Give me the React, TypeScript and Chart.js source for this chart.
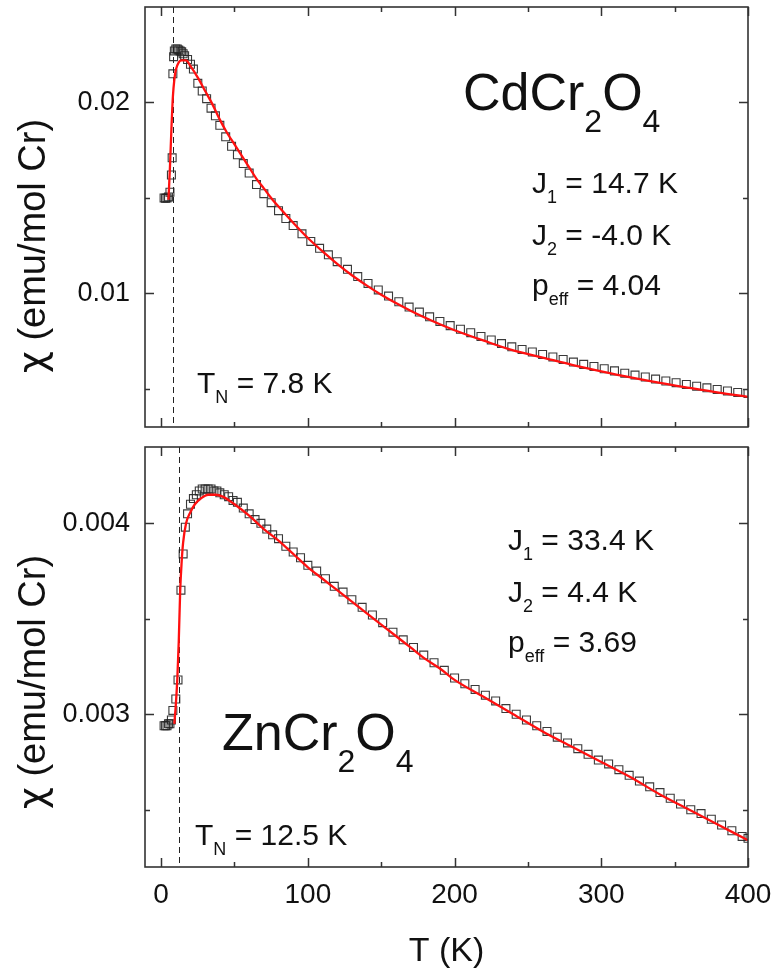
import React, { useEffect, useRef } from "react";
import { Chart, registerables } from "chart.js";

Chart.register(...registerables);

const FONT = "'Liberation Sans', Arial, Helvetica, sans-serif";
const CHI_FONT = "'DejaVu Sans', 'Liberation Sans', sans-serif";

// shared temperature axis
const X_MIN = -11;
const X_MAX = 400;
const xMajorTicks = [0, 100, 200, 300, 400];
const xMinorTicks = [50, 150, 250, 350];

// ---------- CdCr2O4 (top panel) ----------
const cdTemps = [2, 3, 4, 5, 6, 7, 7.5, 8, 8.5, 9, 10, 11, 12, 13, 14, 15, 16, 18, 20, 22, 25, 28, 31, 34, 37, 40, 44, 48, 52, 56, 60, 65, 70, 75, 80, 85, 90, 96, 102, 108, 114, 120, 127, 134, 141, 148, 155, 162, 169, 176, 183, 190, 197, 204, 211, 218, 225, 232, 239, 246, 253, 260, 267, 274, 281, 288, 295, 302, 309, 316, 323, 330, 337, 344, 351, 358, 365, 372, 379, 386, 393, 400];
const cdChi = [0.015, 0.01498, 0.015, 0.01505, 0.0153, 0.0162, 0.0171, 0.0215, 0.0224, 0.0227, 0.0228, 0.0228, 0.02275, 0.0227, 0.02265, 0.02255, 0.02245, 0.02225, 0.022, 0.02175, 0.021, 0.0206, 0.0202, 0.0197, 0.0193, 0.0188, 0.0182, 0.0177, 0.01726, 0.0168, 0.0163, 0.0157, 0.01522, 0.01475, 0.01433, 0.01392, 0.01355, 0.01312, 0.01272, 0.01236, 0.01202, 0.01166, 0.01126, 0.01088, 0.01052, 0.01018, 0.00986, 0.00956, 0.00928, 0.00902, 0.00877, 0.00853, 0.00831, 0.00812, 0.00794, 0.00774, 0.00756, 0.00737, 0.0072, 0.00706, 0.00693, 0.0068, 0.00667, 0.00654, 0.0064, 0.00628, 0.00617, 0.00605, 0.00594, 0.00582, 0.00572, 0.00562, 0.00551, 0.00541, 0.00532, 0.00523, 0.00514, 0.00505, 0.00497, 0.00489, 0.00481, 0.00476];
const cdFitTemps = [5, 6, 7, 8, 9, 10, 12, 14, 17, 20, 25, 30, 35, 40, 45, 50, 55, 60, 65, 70, 75, 80, 90, 100, 110, 120, 130, 140, 150, 160, 170, 180, 190, 200, 220, 240, 260, 280, 300, 320, 340, 360, 380, 400];
const cdFitChi = [0.0149, 0.0166, 0.0186, 0.0203, 0.0212, 0.0217, 0.0221, 0.0222, 0.0222, 0.0219, 0.0213, 0.0206, 0.0199, 0.0191, 0.0184, 0.0178, 0.0172, 0.0166, 0.016, 0.0155, 0.015, 0.01455, 0.0137, 0.0129, 0.0122, 0.01155, 0.01095, 0.01042, 0.00993, 0.00949, 0.00909, 0.00872, 0.00838, 0.00807, 0.00752, 0.00701, 0.00664, 0.00626, 0.00592, 0.0056, 0.00531, 0.00505, 0.0048, 0.00458];
const cdYRange = [0.003, 0.025];
const cdYMajor = [0.01, 0.02];
const cdYMinor = [0.005, 0.015];
const cdTN = 7.8;

// ---------- ZnCr2O4 (bottom panel) ----------
const znTemps = [2, 3, 4, 5, 6, 7, 8, 10, 11.5, 13.5, 15, 16.5, 18, 20, 22, 24, 26, 28, 30, 32, 34, 36, 38, 40, 43, 46, 49, 52, 56, 60, 64, 68, 72, 76, 80, 85, 90, 95, 100, 106, 112, 118, 124, 130, 137, 144, 151, 158, 165, 172, 179, 186, 193, 200, 207, 214, 221, 228, 235, 242, 249, 256, 263, 270, 277, 284, 291, 298, 305, 312, 319, 326, 333, 340, 347, 354, 361, 368, 375, 382, 389, 396, 400];
const znChi = [0.00294, 0.00294, 0.00294, 0.00295, 0.00295, 0.00297, 0.00302, 0.00308, 0.00318, 0.00365, 0.00384, 0.00398, 0.00405, 0.0041, 0.00413, 0.00415, 0.00417, 0.00418, 0.00418, 0.00418, 0.00418, 0.00417, 0.00417, 0.00416, 0.00415, 0.00414, 0.00412, 0.00411, 0.00408, 0.00405, 0.00402, 0.004, 0.00397, 0.00394, 0.00392, 0.00388, 0.00385, 0.00382, 0.00378, 0.00375, 0.00371, 0.00367, 0.00364, 0.0036, 0.00356, 0.00352, 0.00348, 0.00343, 0.00339, 0.00335, 0.00331, 0.00327, 0.00323, 0.00319, 0.00316, 0.00313, 0.0031, 0.00307, 0.00303, 0.003, 0.00297, 0.00294, 0.00291, 0.00288, 0.00285, 0.00282, 0.00279, 0.00276, 0.00274, 0.00271, 0.00268, 0.00265, 0.00262, 0.00259, 0.00256, 0.00253, 0.0025, 0.00248, 0.00245, 0.00242, 0.00239, 0.00236, 0.00235];
const znFitTemps = [9, 10, 11, 12, 13, 14, 15, 17, 20, 23, 27, 32, 37, 42, 50, 60, 70, 80, 90, 100, 110, 120, 130, 140, 150, 160, 170, 180, 190, 200, 220, 240, 260, 280, 300, 320, 340, 360, 380, 400];
const znFitChi = [0.00295, 0.00305, 0.00318, 0.00338, 0.00365, 0.0038, 0.0039, 0.004, 0.00406, 0.0041, 0.00413, 0.00415, 0.00415, 0.00414, 0.0041, 0.00404, 0.00397, 0.00391, 0.00384, 0.00377, 0.00371, 0.00365, 0.00359, 0.00353, 0.00347, 0.00341, 0.00335, 0.00329, 0.00324, 0.00318, 0.00309, 0.003, 0.00291, 0.00283, 0.00275, 0.00267, 0.00258, 0.0025, 0.00242, 0.00234];
const znYRange = [0.0022, 0.0044];
const znYMajor = [0.003, 0.004];
const znYMinor = [0.0025, 0.0035];
const znTN = 12.5;

// ---------- text ----------
const yTitleParts = [{ t: "χ", font: CHI_FONT }, { t: " (emu/mol Cr)", font: FONT }];
const xTitleText = "T (K)";

type Part = { t: string; sub?: boolean };

function drawRich(ctx: CanvasRenderingContext2D, x: number, y: number, parts: Part[], size: number, subSize: number, subDy: number) {
  let cx = x;
  for (const p of parts) {
    ctx.font = `${p.sub ? subSize : size}px ${FONT}`;
    ctx.fillText(p.t, cx, p.sub ? y + subDy : y);
    cx += ctx.measureText(p.t).width;
  }
}

const decorPlugin = {
  id: "panelDecor",
  beforeDatasetsDraw(chart: any, _a: any, opts: any) {
    const { ctx, chartArea: a, scales } = chart;
    const px = Math.round(scales.x.getPixelForValue(opts.tn)) + 0.5;
    ctx.save();
    ctx.strokeStyle = "#222";
    ctx.lineWidth = 1;
    ctx.setLineDash([6, 4]);
    ctx.beginPath();
    ctx.moveTo(px, a.top);
    ctx.lineTo(px, a.bottom);
    ctx.stroke();
    ctx.restore();
  },
  afterDatasetsDraw(chart: any, _a: any, opts: any) {
    const { ctx, chartArea: a, scales } = chart;
    const xs = scales.x;
    const ys = scales.y;
    ctx.save();
    ctx.setLineDash([]);
    ctx.strokeStyle = "#333";
    ctx.lineWidth = 1.5;
    const tick = (vals: number[], len: number, horiz: boolean) => {
      for (const v of vals) {
        ctx.beginPath();
        if (horiz) {
          const p = Math.round(xs.getPixelForValue(v)) + 0.5;
          ctx.moveTo(p, a.bottom);
          ctx.lineTo(p, a.bottom - len);
          ctx.moveTo(p, a.top);
          ctx.lineTo(p, a.top + len);
        } else {
          const p = Math.round(ys.getPixelForValue(v)) + 0.5;
          ctx.moveTo(a.left, p);
          ctx.lineTo(a.left + len, p);
          ctx.moveTo(a.right, p);
          ctx.lineTo(a.right - len, p);
        }
        ctx.stroke();
      }
    };
    tick(xMajorTicks, 9, true);
    tick(xMinorTicks, 5, true);
    tick(opts.yMajor, 9, false);
    tick(opts.yMinor, 5, false);
    ctx.lineWidth = 1.6;
    ctx.strokeRect(a.left, a.top, a.right - a.left, a.bottom - a.top);

    // texts
    ctx.fillStyle = "#111";
    ctx.textAlign = "left";
    ctx.textBaseline = "alphabetic";
    const f = opts.formula;
    drawRich(ctx, f.x, f.y, f.parts, 52, 32, 22);
    for (const p of opts.params) drawRich(ctx, p.x, p.y, p.parts, 30, 18, 10);
    const tn = opts.tnLabel;
    drawRich(ctx, tn.x, tn.y, tn.parts, 30, 18, 10);

    // y title (rotated)
    ctx.save();
    ctx.translate(opts.yTitle.x, opts.yTitle.y);
    ctx.rotate(-Math.PI / 2);
    ctx.textBaseline = "middle";
    ctx.textAlign = "left";
    let total = 0;
    for (const p of yTitleParts) {
      ctx.font = `38px ${p.font}`;
      total += ctx.measureText(p.t).width;
    }
    let cx = -total / 2;
    for (const p of yTitleParts) {
      ctx.font = `38px ${p.font}`;
      ctx.fillText(p.t, cx, 0);
      cx += ctx.measureText(p.t).width;
    }
    ctx.restore();
    ctx.restore();
  },
};

function makeConfig(p: {
  temps: number[]; chi: number[]; fitT: number[]; fitChi: number[];
  yRange: number[]; yMajor: number[]; yMinor: number[]; tn: number;
  bottom: boolean; decor: any; canvasH: number;
}) {
  return {
    type: "scatter" as const,
    data: {
      datasets: [
        {
          label: "fit",
          data: p.fitT.map((t, i) => ({ x: t, y: p.fitChi[i] })),
          showLine: true,
          borderColor: "#ff1010",
          borderWidth: 2.3,
          pointRadius: 0,
          cubicInterpolationMode: "monotone",
          order: 0,
        },
        {
          label: "data",
          data: p.temps.map((t, i) => ({ x: t, y: p.chi[i] })),
          showLine: false,
          pointStyle: "rect",
          pointRadius: 5.6,
          borderWidth: 1.1,
          borderColor: "rgba(35,35,35,0.9)",
          backgroundColor: "rgba(255,255,255,0)",
          order: 1,
        },
      ],
    },
    options: {
      responsive: false,
      animation: false,
      events: [],
      layout: { padding: { left: 0, right: 27, top: 7, bottom: p.bottom ? 0 : 13 } },
      plugins: {
        legend: { display: false },
        tooltip: { enabled: false },
        panelDecor: { ...p.decor, tn: p.tn, yMajor: p.yMajor, yMinor: p.yMinor },
      },
      scales: {
        x: {
          type: "linear",
          min: X_MIN,
          max: X_MAX,
          grid: { display: false, drawTicks: false },
          border: { display: false },
          afterBuildTicks: (s: any) => { s.ticks = xMajorTicks.map((v) => ({ value: v })); },
          afterFit: (s: any) => {
            s.height = p.bottom ? p.canvasH - 427 : 0;
            s.paddingLeft = 0;
            s.paddingRight = 0;
          },
          ticks: {
            display: p.bottom,
            padding: 11,
            color: "#111",
            font: { size: 28, family: FONT },
            maxRotation: 0,
            callback: (v: any) => String(v),
          },
          title: {
            display: p.bottom,
            text: xTitleText,
            color: "#111",
            font: { size: 34, family: FONT },
            padding: { top: 0, bottom: 6 },
          },
        },
        y: {
          type: "linear",
          min: p.yRange[0],
          max: p.yRange[1],
          grid: { display: false, drawTicks: false },
          border: { display: false },
          afterBuildTicks: (s: any) => { s.ticks = p.yMajor.map((v) => ({ value: v })); },
          afterFit: (s: any) => {
            s.width = 145;
            s.paddingTop = 0;
            s.paddingBottom = 0;
          },
          ticks: {
            padding: 15,
            color: "#111",
            font: { size: 27, family: FONT },
            callback: (v: any) => String(v),
          },
        },
      },
    },
    plugins: [decorPlugin],
  };
}

function Panel(props: { top: number; height: number; cfg: any }) {
  const ref = useRef<HTMLCanvasElement>(null);
  useEffect(() => {
    if (!ref.current) return;
    const chart = new Chart(ref.current, props.cfg);
    return () => chart.destroy();
  }, []);
  return (
    <canvas
      ref={ref}
      width={775}
      height={props.height}
      style={{ position: "absolute", left: 0, top: props.top, width: 775, height: props.height }}
    />
  );
}

export default function App() {
  const topCfg = makeConfig({
    temps: cdTemps, chi: cdChi, fitT: cdFitTemps, fitChi: cdFitChi,
    yRange: cdYRange, yMajor: cdYMajor, yMinor: cdYMinor, tn: cdTN,
    bottom: false, canvasH: 440,
    decor: {
      formula: { x: 463, y: 110, parts: [{ t: "CdCr" }, { t: "2", sub: true }, { t: "O" }, { t: "4", sub: true }] },
      params: [
        { x: 532, y: 193, parts: [{ t: "J" }, { t: "1", sub: true }, { t: " = 14.7 K" }] },
        { x: 532, y: 245, parts: [{ t: "J" }, { t: "2", sub: true }, { t: " = -4.0 K" }] },
        { x: 532, y: 295, parts: [{ t: "p" }, { t: "eff", sub: true }, { t: " = 4.04" }] },
      ],
      tnLabel: { x: 197, y: 393, parts: [{ t: "T" }, { t: "N", sub: true }, { t: " = 7.8 K" }] },
      yTitle: { x: 35, y: 246 },
    },
  });
  const botCfg = makeConfig({
    temps: znTemps, chi: znChi, fitT: znFitTemps, fitChi: znFitChi,
    yRange: znYRange, yMajor: znYMajor, yMinor: znYMinor, tn: znTN,
    bottom: true, canvasH: 538,
    decor: {
      formula: { x: 222, y: 310, parts: [{ t: "ZnCr" }, { t: "2", sub: true }, { t: "O" }, { t: "4", sub: true }] },
      params: [
        { x: 508, y: 110, parts: [{ t: "J" }, { t: "1", sub: true }, { t: " = 33.4 K" }] },
        { x: 508, y: 162, parts: [{ t: "J" }, { t: "2", sub: true }, { t: " = 4.4 K" }] },
        { x: 508, y: 212, parts: [{ t: "p" }, { t: "eff", sub: true }, { t: " = 3.69" }] },
      ],
      tnLabel: { x: 195, y: 405, parts: [{ t: "T" }, { t: "N", sub: true }, { t: " = 12.5 K" }] },
      yTitle: { x: 35, y: 242 },
    },
  });
  return (
    <div style={{ position: "absolute", left: 0, top: 0, width: 775, height: 978, background: "#fff" }}>
      <Panel top={0} height={440} cfg={topCfg} />
      <Panel top={440} height={538} cfg={botCfg} />
    </div>
  );
}
